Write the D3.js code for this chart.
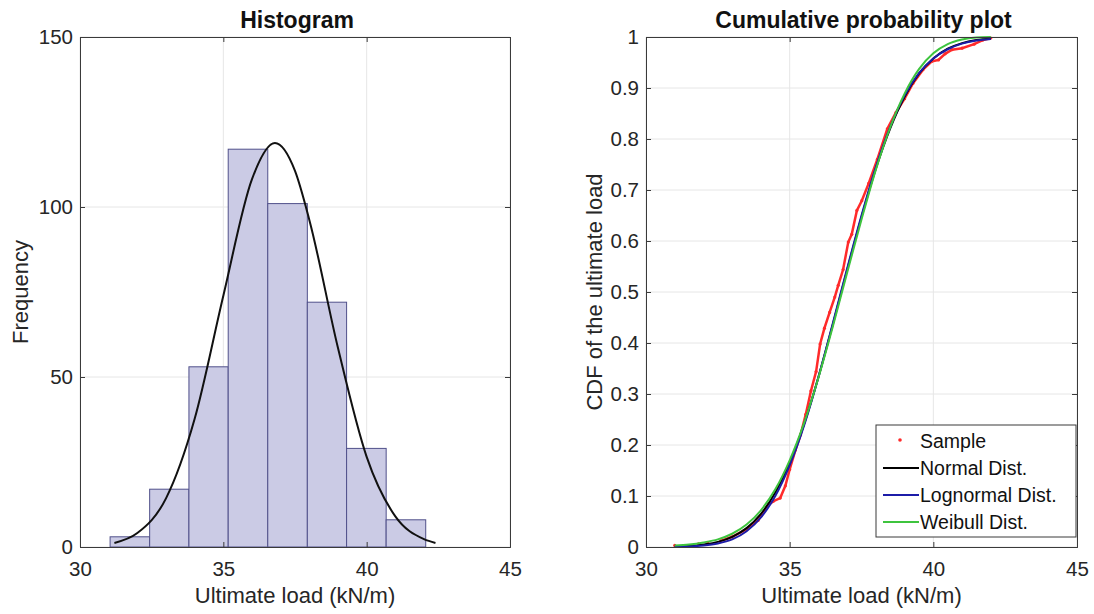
<!DOCTYPE html>
<html>
<head>
<meta charset="utf-8">
<script src="https://cdn.jsdelivr.net/npm/d3@7"></script>
<style>
  body { margin: 0; background: #fff; }
  svg { font-family: 'Liberation Sans', Arial, sans-serif; }
  .grid line { stroke: #e6e6e6; stroke-width: 1; }
  .tick text { fill: #262626; }
</style>
</head>
<body>
<svg width="1094" height="614"></svg>
<script>
// histogram
const binEdges = [31.05, 32.43, 33.80, 35.17, 36.55, 37.93, 39.30, 40.68, 42.06]
const binCounts = [3, 17, 53, 117, 101, 72, 29, 8]
const histXTicks = [30, 35, 40, 45]
const histYTicks = [0, 50, 100, 150]

// fitted normal curve over the histogram
const pdfX = [31.2, 32, 33, 34, 35, 36, 36.8, 37.5, 38, 39, 40, 41, 42, 42.4]
const pdfY = [1.2, 4.1, 14.3, 37.7, 73.9, 108.2, 118.8, 110.6, 96.2, 58.5, 26.5, 9.0, 2.3, 1.2]

// cumulative plot
const cdfX = [31, 31.5, 32, 32.5, 33, 33.5, 34, 34.5, 35, 35.5, 36, 36.5, 37, 37.5, 38, 38.5, 39, 39.5, 40, 40.5, 41, 41.5, 42]
const normalCdf = [0.001, 0.002, 0.005, 0.010, 0.020, 0.037, 0.065, 0.107, 0.165, 0.241, 0.333, 0.436, 0.543, 0.647, 0.742, 0.821, 0.883, 0.928, 0.958, 0.977, 0.988, 0.994, 0.997]
const lognormalCdf = [0.0003, 0.001, 0.003, 0.007, 0.015, 0.031, 0.058, 0.100, 0.160, 0.238, 0.333, 0.438, 0.546, 0.650, 0.745, 0.824, 0.885, 0.929, 0.958, 0.976, 0.987, 0.993, 0.996]
const weibullCdf = [0.003, 0.005, 0.009, 0.015, 0.026, 0.044, 0.072, 0.113, 0.170, 0.243, 0.332, 0.432, 0.538, 0.642, 0.740, 0.823, 0.889, 0.937, 0.968, 0.986, 0.995, 0.999, 1.0]

const sampleX = [31.0, 31.83, 32.15, 32.6, 33.0, 33.5, 33.9, 34.26, 34.44, 34.67, 34.85, 35.0, 35.2, 35.38, 35.56, 35.74, 35.92, 36.06, 36.21, 36.39, 36.57, 36.69, 36.86, 37.04, 37.16, 37.34, 37.51, 37.75, 38.05, 38.4, 38.7, 39.0, 39.29, 39.64, 39.94, 40.18, 40.41, 40.65, 41.0, 41.42, 41.72, 42.0]
const sampleF = [0.003, 0.006, 0.008, 0.012, 0.020, 0.035, 0.052, 0.083, 0.090, 0.096, 0.120, 0.152, 0.190, 0.220, 0.260, 0.306, 0.344, 0.398, 0.429, 0.460, 0.490, 0.513, 0.544, 0.598, 0.613, 0.660, 0.679, 0.713, 0.760, 0.820, 0.852, 0.879, 0.909, 0.936, 0.952, 0.955, 0.967, 0.975, 0.978, 0.986, 0.994, 0.998]
const cdfYTicks = [0, 0.1, 0.2, 0.3, 0.4, 0.5, 0.6, 0.7, 0.8, 0.9, 1]

const legendItems = [
  { label: 'Sample', color: '#ff2a2a', dot: true },
  { label: 'Normal Dist.', color: '#000000' },
  { label: 'Lognormal Dist.', color: '#1c1ca8' },
  { label: 'Weibull Dist.', color: '#3ec43e' }
]

const svg = d3.select('svg')
const plotTop = 37, plotBottom = 547

function makeAxes(left, right, yDomain, xTicks, yTicks) {
  const x = d3.scaleLinear().domain([30, 45]).range([left, right])
  const y = d3.scaleLinear().domain(yDomain).range([plotBottom, plotTop])
  const g = svg.append('g')

  // grid
  const grid = g.append('g').attr('class', 'grid')
  grid.selectAll('.gx').data(xTicks).enter().append('line')
    .attr('x1', d => x(d)).attr('x2', d => x(d)).attr('y1', plotTop).attr('y2', plotBottom)
  grid.selectAll('.gy').data(yTicks).enter().append('line')
    .attr('x1', left).attr('x2', right).attr('y1', d => y(d)).attr('y2', d => y(d))

  return { x, y, g }
}

function drawFrame(ax, xTicks, yTicks, yFmt, title, yLabel, yLabelOffset) {
  const { x, y } = ax
  const [left, right] = x.range()
  const frame = svg.append('g')

  frame.append('g').attr('transform', `translate(0,${plotBottom})`)
    .call(d3.axisBottom(x).tickValues(xTicks).tickSize(-5).tickPadding(14))
  frame.append('g').attr('transform', `translate(0,${plotTop})`)
    .call(d3.axisTop(x).tickValues(xTicks).tickSize(-5).tickFormat(''))
  frame.append('g').attr('transform', `translate(${left},0)`)
    .call(d3.axisLeft(y).tickValues(yTicks).tickSize(-5).tickPadding(7).tickFormat(yFmt))
  frame.append('g').attr('transform', `translate(${right},0)`)
    .call(d3.axisRight(y).tickValues(yTicks).tickSize(-5).tickFormat(''))

  frame.selectAll('.domain').attr('stroke', '#3a3a3a')
  frame.selectAll('.tick line').attr('stroke', '#3a3a3a')
  frame.selectAll('.tick text').attr('font-size', 20.5)

  svg.append('text')
    .attr('x', (left + right) / 2 + 2).attr('y', 28)
    .attr('text-anchor', 'middle')
    .attr('font-size', 23).attr('font-weight', 'bold').attr('fill', '#111')
    .text(title)

  svg.append('text')
    .attr('x', (left + right) / 2).attr('y', 603)
    .attr('text-anchor', 'middle')
    .attr('font-size', 22).attr('fill', '#262626')
    .text('Ultimate load (kN/m)')

  svg.append('text')
    .attr('transform', `translate(${left - yLabelOffset},${(plotTop + plotBottom) / 2}) rotate(-90)`)
    .attr('text-anchor', 'middle')
    .attr('font-size', 22).attr('fill', '#262626')
    .text(yLabel)
}

// ---- Histogram ----
const h = makeAxes(80, 510, [0, 150], histXTicks, histYTicks)
h.g.selectAll('rect').data(binCounts).enter().append('rect')
  .attr('x', (d, i) => h.x(binEdges[i]))
  .attr('width', (d, i) => h.x(binEdges[i + 1]) - h.x(binEdges[i]))
  .attr('y', d => h.y(d))
  .attr('height', d => h.y(0) - h.y(d))
  .attr('fill', '#cbcbe5')
  .attr('stroke', '#50508a')
  .attr('stroke-width', 1)

h.g.append('path')
  .datum(pdfX.map((v, i) => [v, pdfY[i]]))
  .attr('fill', 'none')
  .attr('stroke', '#111')
  .attr('stroke-width', 2)
  .attr('d', d3.line().x(d => h.x(d[0])).y(d => h.y(d[1])).curve(d3.curveMonotoneX))

drawFrame(h, histXTicks, histYTicks, d3.format('d'), 'Histogram', 'Frequency', 52)

// ---- CDF ----
const c = makeAxes(646, 1077, [0, 1], histXTicks, cdfYTicks)
const cdfLine = d3.line().x(d => c.x(d[0])).y(d => c.y(d[1]))

const samplePts = sampleX.map((v, i) => [v, sampleF[i]])
c.g.append('path')
  .datum(samplePts.slice(3))
  .attr('fill', 'none')
  .attr('stroke', legendItems[0].color)
  .attr('stroke-width', 2.5)
  .attr('d', cdfLine)
c.g.selectAll('.dot').data(samplePts).enter().append('circle')
  .attr('cx', d => c.x(d[0])).attr('cy', d => c.y(d[1]))
  .attr('r', 1.6).attr('fill', legendItems[0].color)

const smoothLine = d3.line().x(d => c.x(d[0])).y(d => c.y(d[1])).curve(d3.curveMonotoneX)
;[normalCdf, lognormalCdf, weibullCdf].forEach((series, k) => {
  c.g.append('path')
    .datum(cdfX.map((v, i) => [v, series[i]]))
    .attr('fill', 'none')
    .attr('stroke', legendItems[k + 1].color)
    .attr('stroke-width', 2)
    .attr('d', smoothLine)
})

drawFrame(c, histXTicks, cdfYTicks, d => d === 0 || d === 1 ? String(d) : d3.format('.1f')(d), 'Cumulative probability plot', 'CDF of the ultimate load', 44)

// legend
const lg = svg.append('g').attr('transform', 'translate(876,425)')
lg.append('rect').attr('width', 200).attr('height', 112)
  .attr('fill', '#fff').attr('stroke', '#3a3a3a').attr('stroke-width', 1)
const row = lg.selectAll('.row').data(legendItems).enter().append('g')
  .attr('transform', (d, i) => `translate(0,${16 + i * 27})`)
row.filter(d => !d.dot).append('line')
  .attr('x1', 7).attr('x2', 43).attr('y1', 0).attr('y2', 0)
  .attr('stroke', d => d.color).attr('stroke-width', 2)
row.filter(d => d.dot).append('circle')
  .attr('cx', 24).attr('cy', -1).attr('r', 1.8).attr('fill', d => d.color)
row.append('text')
  .attr('x', 44).attr('y', 7)
  .attr('font-size', 19.5).attr('fill', '#111')
  .text(d => d.label)
</script>
</body>
</html>
